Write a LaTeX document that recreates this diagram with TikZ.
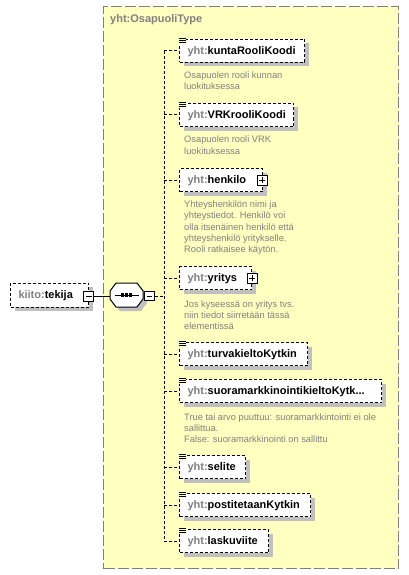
\documentclass[tikz,border=0pt]{standalone}
\usepackage{fontspec}
\setmainfont{Liberation Sans}
\usetikzlibrary{shadows}
\definecolor{typefill}{RGB}{255,255,192}
\definecolor{typeborder}{RGB}{128,128,128}
\definecolor{shadowgray}{RGB}{192,192,192}
\definecolor{txtgray}{RGB}{128,128,128}
\newcommand\eqicon[1]{%
  \fill[typefill] ([xshift=-0.8pt,yshift=1.5pt]#1.north west) rectangle ([xshift=7pt,yshift=-5pt]#1.north west);
  \foreach \d in {0.5,-1.5,-3.5}
    \draw[line width=0.9pt] ([yshift=\d pt]#1.north west) -- ([xshift=6.5pt,yshift=\d pt]#1.north west);}
\newcommand\pfx[1]{{\color{txtgray}#1:}}
\begin{document}
\begin{tikzpicture}[x=1pt,y=1pt,
  typebox/.style={draw=typeborder, fill=typefill, line width=1.3pt, dash pattern=on 11pt off 3pt, inner sep=0pt},
  elem/.style={draw, dash pattern=on 3pt off 2pt, line width=1pt, fill=white, anchor=west,
    minimum height=23pt, inner xsep=8pt, inner ysep=0pt, text height=8.5pt, text depth=1.5pt,
    align=left, font=\fontsize{11}{13}\selectfont\bfseries,
    drop shadow={shadow xshift=4pt, shadow yshift=-4pt, fill=shadowgray, opacity=1, draw=none}},
  desc/.style={anchor=north west, inner sep=0pt, align=left, text=txtgray, font=\fontsize{9.3}{11.33}\selectfont},
  conn/.style={line width=1pt, dash pattern=on 3pt off 2pt},
  pmbox/.style={draw, solid, fill=white, line width=0.8pt, minimum size=10pt, inner sep=0pt},
  minusbox/.style={pmbox, path picture={\draw[line width=0.9pt] ([xshift=2pt]path picture bounding box.west) -- ([xshift=-2pt]path picture bounding box.east);}},
  plusbox/.style={pmbox, path picture={\draw[line width=0.9pt] ([xshift=2pt]path picture bounding box.west) -- ([xshift=-2pt]path picture bounding box.east) ([yshift=-2pt]path picture bounding box.north) -- ([yshift=2pt]path picture bounding box.south);}}
]
\useasboundingbox[fill=white] (0,0) rectangle (409,-575);

% type container
\node[typebox, minimum width=295pt, minimum height=562pt, anchor=north west] (otype) at (103,-6) {};
\node[anchor=base west, inner sep=0pt, text=txtgray, font=\fontsize{11}{13}\selectfont\bfseries] (title) at (110,-23) {yht:OsapuoliType};

% bus
\coordinate (bus) at (164,-296);

% elements
\node[elem, text width=109pt] (kunta) at (179,-51) {\pfx{yht}kuntaRooliKoodi};
\node[elem, text width=98pt] (vrk) at (179,-115) {\pfx{yht}VRKrooliKoodi};
\node[elem, text width=67pt] (henkilo) at (179,-180) {\pfx{yht}henkilo};
\node[elem, text width=56pt] (yritys) at (179,-278) {\pfx{yht}yritys};
\node[elem, text width=112pt] (turva) at (179,-354) {\pfx{yht}turvakieltoKytkin};
\node[elem, text width=186pt] (suora) at (179,-391) {\pfx{yht}suoramarkkinointikieltoKytk...};
\node[elem, text width=50pt] (selite) at (179,-467) {\pfx{yht}selite};
\node[elem, text width=115pt] (posti) at (179,-505) {\pfx{yht}postitetaanKytkin};
\node[elem, text width=73pt] (lasku) at (179,-541) {\pfx{yht}laskuviite};

\foreach \n in {kunta,vrk,turva,suora,selite,posti,lasku} {\eqicon{\n}}

\node[plusbox] (henkiloplus) at ([xshift=-1pt]henkilo.east) {};
\node[plusbox] (yritysplus) at (yritys.east) {};

% descriptions
\node[desc] (d1) at (184,-70.1) {\strut Osapuolen rooli kunnan\\luokituksessa};
\node[desc] (d2) at (184,-134.6) {\strut Osapuolen rooli VRK\\luokituksessa};
\node[desc] (d3) at (184,-199.4) {\strut Yhteyshenkilön nimi ja\\yhteystiedot. Henkilö voi\\olla itsenäinen henkilö että\\yhteyshenkilö yritykselle.\\Rooli ratkaisee käytön.};
\node[desc] (d4) at (184,-299) {\strut Jos kyseessä on yritys tvs.\\niin tiedot siirretään tässä\\elementissä};
\node[desc] (d5) at (184,-412) {\strut True tai arvo puuttuu: suoramarkkintointi ei ole\\sallittua.\\False: suoramarkkinointi on sallittu};

% connectors to bus
\draw[conn] (kunta.west -| bus) -- (lasku.west -| bus);
\foreach \n in {kunta,vrk,henkilo,yritys,turva,suora,selite,posti,lasku}
  \draw[conn] (\n.west -| bus) -- (\n.west);

% left element
\node[elem, text width=62pt, minimum height=24pt] (tekija) at (10,-295) {\pfx{kiito}tekija};
\node[minusbox] (tekijaminus) at ([xshift=-0.5pt,yshift=-1pt]tekija.east) {};

% sequence compositor
\node[minimum width=33pt, minimum height=24pt, inner sep=0pt] (seq) at (126.5,-295) {};
\begin{scope}[shift={(seq.center)}]
  \fill[shadowgray, shift={(4,-4)}] (-16.5,-4) -- (-16.5,4) -- (-10.5,12) -- (10.5,12) -- (16.5,4) -- (16.5,-4) -- (10.5,-12) -- (-10.5,-12) -- cycle;
  \draw[line width=1pt, fill=white] (-16.5,-4) -- (-16.5,4) -- (-10.5,12) -- (10.5,12) -- (16.5,4) -- (16.5,-4) -- (10.5,-12) -- (-10.5,-12) -- cycle;
  \draw[line width=1pt] (-12,0) -- (12,0);
  \foreach \xx in {-4,0,4} \fill (\xx-1.6,-1.6) rectangle (\xx+1.6,1.6);
\end{scope}
\node[minusbox, minimum size=9.5pt] (seqminus) at (149.5,-296) {};

\draw[line width=1pt] (tekijaminus.east) -- (tekijaminus.east -| seq.west);
\draw[conn] (seqminus.east) -- (bus);
\end{tikzpicture}
\end{document}
